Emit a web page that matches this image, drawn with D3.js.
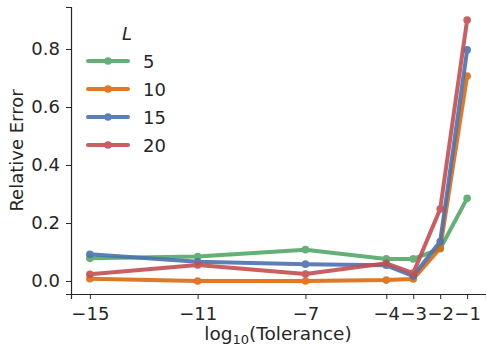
<!DOCTYPE html>
<html>
<head>
<meta charset="utf-8">
<script src="https://cdn.jsdelivr.net/npm/d3@7"></script>
<style>
  body { margin: 0; background: #fff; }
  text { font-family: "DejaVu Sans", sans-serif; fill: #262626; }
</style>
</head>
<body>
<div id="chart"></div>
<script>
// log10(tolerance) values on the x axis
const tolerances = [-15, -11, -7, -4, -3, -2, -1];
const xTicks = [-15, -11, -7, -4, -3, -2, -1];
const yTicks = [0.0, 0.2, 0.4, 0.6, 0.8];

const seriesNames = ["5", "10", "15", "20"];
const err5  = [0.078, 0.084, 0.108, 0.076, 0.076, 0.111, 0.285];
const err10 = [0.008, 0.000, 0.000, 0.003, 0.007, 0.113, 0.707];
const err15 = [0.092, 0.066, 0.058, 0.054, 0.017, 0.136, 0.797];
const err20 = [0.023, 0.055, 0.024, 0.061, 0.027, 0.248, 0.900];
const colors = ["#55a868", "#dd6a0e", "#4c72b0", "#c44e52"];

const series = [err5, err10, err15, err20].map((vals, i) => ({
  name: seriesNames[i],
  color: colors[i],
  values: vals.map((v, j) => ({x: tolerances[j], y: v}))
}));

const width = 486, height = 347;
const margin = {top: 7, right: 0, bottom: 53, left: 71};
const fs = "18px";

const svg = d3.select("#chart").append("svg")
  .attr("width", width)
  .attr("height", height);

const x = d3.scaleLinear()
  .domain([-15.7, -0.3])
  .range([margin.left, width - margin.right]);
const y = d3.scaleLinear()
  .domain([-0.045, 0.945])
  .range([height - margin.bottom, margin.top]);

// Axes
const xAxis = svg.append("g")
  .attr("transform", `translate(0,${height - margin.bottom})`)
  .call(d3.axisBottom(x).tickValues(xTicks).tickSize(5).tickPadding(8)
    .tickFormat(d => String(d).replace("-", "\u2212")));
const yAxis = svg.append("g")
  .attr("transform", `translate(${margin.left},0)`)
  .call(d3.axisLeft(y).tickValues(yTicks).tickSize(5).tickPadding(6)
    .tickFormat(d3.format(".1f")));

[xAxis, yAxis].forEach(g => {
  g.select(".domain").attr("stroke", "#262626").attr("stroke-width", 1.2);
  g.selectAll(".tick line").attr("stroke", "#262626").attr("stroke-width", 1);
  g.selectAll(".tick text").attr("font-size", fs).attr("fill", "#262626")
    .style("font-family", "DejaVu Sans, sans-serif");
});

// Lines
const line = d3.line().x(d => x(d.x)).y(d => y(d.y));
series.forEach(s => {
  const g = svg.append("g").attr("opacity", 0.9);
  g.append("path")
    .datum(s.values)
    .attr("fill", "none")
    .attr("stroke", s.color)
    .attr("stroke-width", 4)
    .attr("stroke-linejoin", "round")
    .attr("d", line);
  g.selectAll("circle")
    .data(s.values)
    .enter()
    .append("circle")
    .attr("cx", d => x(d.x))
    .attr("cy", d => y(d.y))
    .attr("r", 3.8)
    .attr("fill", s.color);
});

// Legend
const legend = svg.append("g");
legend.append("text")
  .attr("x", 127)
  .attr("y", 40)
  .attr("text-anchor", "middle")
  .attr("font-size", fs)
  .attr("font-style", "italic")
  .text("L");
series.forEach((s, i) => {
  const ly = 61 + i * 28;
  const item = legend.append("g").attr("opacity", 0.9);
  item.append("line")
    .attr("x1", 88).attr("x2", 128)
    .attr("y1", ly).attr("y2", ly)
    .attr("stroke", s.color)
    .attr("stroke-width", 4)
    .attr("stroke-linecap", "round");
  item.append("circle")
    .attr("cx", 108).attr("cy", ly).attr("r", 3.8)
    .attr("fill", s.color);
  legend.append("text")
    .attr("x", 143)
    .attr("y", ly + 6.5)
    .attr("font-size", fs)
    .text(s.name);
});

// Axis labels
const xl = svg.append("text")
  .attr("x", 278)
  .attr("y", 340)
  .attr("text-anchor", "middle")
  .attr("font-size", "18.5px");
xl.append("tspan").text("log");
xl.append("tspan").attr("font-size", "13px").attr("dy", 4).text("10");
xl.append("tspan").attr("dy", -4).text("(Tolerance)");

svg.append("text")
  .attr("transform", "rotate(-90)")
  .attr("x", -(margin.top + height - margin.bottom) / 2)
  .attr("y", 23)
  .attr("text-anchor", "middle")
  .attr("font-size", fs)
  .text("Relative Error");
</script>
</body>
</html>
